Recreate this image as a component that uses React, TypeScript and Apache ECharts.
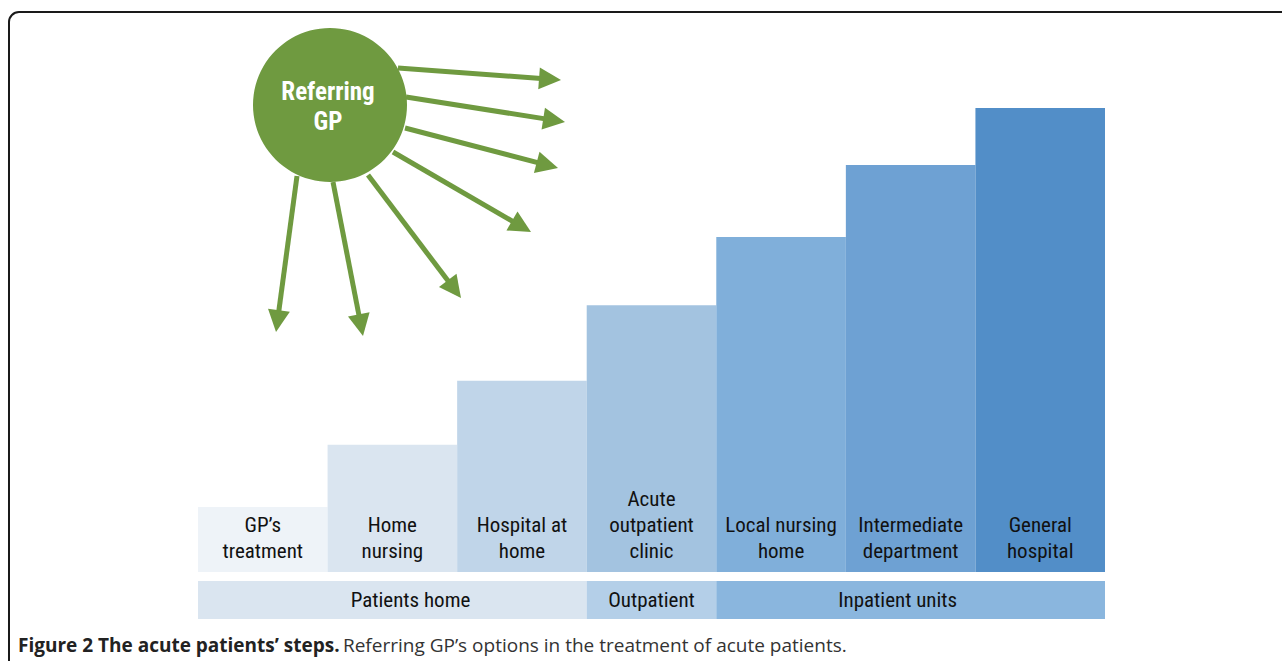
import React, { useEffect, useRef } from "react";
import * as echarts from "echarts";

// ---- data ----
const categories = [
  "GP’s\ntreatment",
  "Home\nnursing",
  "Hospital at\nhome",
  "Acute\noutpatient\nclinic",
  "Local nursing\nhome",
  "Intermediate\ndepartment",
  "General\nhospital",
];
const levels = [14, 27.4, 41.2, 57.5, 72.2, 87.7, 100];
const barColors = ["#eef3f8", "#dae5f0", "#c0d5e9", "#a3c3e0", "#80afda", "#6ea1d3", "#528ec8"];

const bandNames = ["Patients home", "Outpatient", "Inpatient units"];
const bandStart = [0, 3, 4];
const bandEnd = [3, 4, 7];
const bandLabelAt = [1.64, 3.5, 5.4];
const bandColors = ["#dae5f0", "#b4cfe8", "#8ab6de"];

const gpLines = ["Referring", "GP"];
const captionBold = "Figure 2 The acute patients’ steps.";
const captionText = "Referring GP’s options in the treatment of acute patients.";

// decorative arrows: [startX, startY, tipX, tipY]
const arrows: number[][] = [
  [398, 68, 561, 80],
  [406, 97, 565, 122],
  [405, 128, 558, 168],
  [393, 152, 531, 232],
  [368, 175, 461, 298],
  [333, 182, 363, 336],
  [297, 176, 276, 332],
];

const GREEN = "#6f9a40";
const LABEL_FONT = "'Roboto Condensed', 'Liberation Sans', sans-serif";

function arrowElements() {
  const els: any[] = [];
  arrows.forEach(([sx, sy, tx, ty]) => {
    const dx = tx - sx;
    const dy = ty - sy;
    const len = Math.sqrt(dx * dx + dy * dy);
    const ux = dx / len;
    const uy = dy / len;
    const L = 22;
    const W = 11;
    const bx = tx - L * ux;
    const by = ty - L * uy;
    els.push({
      type: "line",
      shape: { x1: sx, y1: sy, x2: bx + 2 * ux, y2: by + 2 * uy },
      style: { stroke: GREEN, lineWidth: 5 },
      z: 10,
    });
    els.push({
      type: "polygon",
      shape: {
        points: [
          [tx, ty],
          [bx - W * uy, by + W * ux],
          [bx + W * uy, by - W * ux],
        ],
      },
      style: { fill: GREEN },
      z: 10,
    });
  });
  return els;
}

export default function App() {
  const ref = useRef<HTMLDivElement>(null);

  useEffect(() => {
    if (!ref.current) return;
    const chart = echarts.init(ref.current, null, { renderer: "svg" });
    const bandData = bandNames.map((n, i) => [bandStart[i], bandEnd[i], bandLabelAt[i], n]);

    chart.setOption({
      animation: false,
      backgroundColor: "#ffffff",
      grid: [
        { left: 198, width: 907, top: 108, height: 464 },
        { left: 198, width: 907, top: 581, height: 38 },
      ],
      xAxis: [
        { type: "category", data: categories, gridIndex: 0, show: false, boundaryGap: true },
        { type: "value", min: 0, max: 7, gridIndex: 1, show: false },
      ],
      yAxis: [
        { type: "value", min: 0, max: 100, gridIndex: 0, show: false },
        { type: "value", min: 0, max: 1, gridIndex: 1, show: false },
      ],
      series: [
        {
          type: "bar",
          xAxisIndex: 0,
          yAxisIndex: 0,
          barWidth: "100%",
          barCategoryGap: 0,
          data: levels.map((v, i) => ({ value: v, itemStyle: { color: barColors[i] } })),
          label: {
            show: true,
            position: "insideBottom",
            distance: 8,
            formatter: (p: any) => categories[p.dataIndex],
            color: "#111111",
            fontFamily: LABEL_FONT,
            fontSize: 21,
            lineHeight: 26,
            align: "center",
          },
        },
        {
          type: "custom",
          xAxisIndex: 1,
          yAxisIndex: 1,
          data: bandData,
          renderItem: (params: any, api: any) => {
            const p0 = api.coord([api.value(0), 1]);
            const p1 = api.coord([api.value(1), 0]);
            const pc = api.coord([api.value(2), 0.5]);
            const i = params.dataIndex;
            return {
              type: "group",
              children: [
                {
                  type: "rect",
                  shape: { x: p0[0], y: p0[1], width: p1[0] - p0[0], height: p1[1] - p0[1] },
                  style: { fill: bandColors[i] },
                },
                {
                  type: "text",
                  x: pc[0],
                  y: pc[1],
                  style: {
                    text: bandNames[i],
                    fill: "#111111",
                    font: `21px ${LABEL_FONT}`,
                    align: "center",
                    verticalAlign: "middle",
                  },
                },
              ],
            };
          },
        },
      ],
      graphic: [
        {
          type: "rect",
          shape: { x: 9, y: 12, width: 1400, height: 900, r: 10 },
          style: { fill: "none", stroke: "#1a1a1a", lineWidth: 2 },
          z: 1,
        },
        ...arrowElements(),
        {
          type: "circle",
          shape: { cx: 330, cy: 105, r: 77 },
          style: { fill: GREEN },
          z: 11,
        },
        ...gpLines.map((t, i) => ({
          type: "text",
          x: 328,
          y: 91 + i * 30,
          z: 12,
          style: {
            text: t,
            fill: "#ffffff",
            font: "bold 25px 'Roboto Condensed', sans-serif",
            align: "center",
            verticalAlign: "middle",
          },
        })),
        {
          type: "text",
          x: 18,
          y: 645,
          z: 12,
          style: {
            text: `{b|${captionBold}} {r|${captionText}}`,
            verticalAlign: "middle",
            rich: {
              b: { fontFamily: "'Open Sans', sans-serif", fontWeight: "bold", fontSize: 19, fill: "#222222" },
              r: { fontFamily: "'Open Sans', sans-serif", fontSize: 19, fill: "#333333" },
            },
          },
        },
      ],
    });
    return () => chart.dispose();
  }, []);

  return (
    <div
      ref={ref}
      style={{ position: "absolute", left: 0, top: 0, width: 1282, height: 661 }}
    />
  );
}
